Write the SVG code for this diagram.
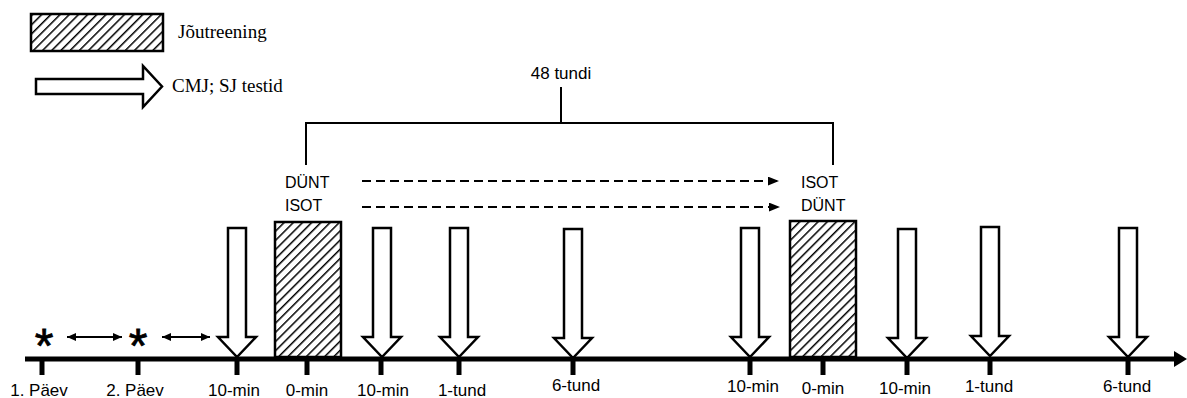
<svg xmlns="http://www.w3.org/2000/svg" width="1187" height="398" viewBox="0 0 1187 398">
<style>
.serif{font-family:"Liberation Serif","Times New Roman",serif;font-size:19px;fill:#000}
.sans{font-family:"Liberation Sans",Arial,sans-serif;font-size:17px;fill:#000}
.lab{font-family:"Liberation Sans",Arial,sans-serif;font-size:16px;fill:#000}
.box{fill:url(#hatch);stroke:#000;stroke-width:2.5}
.darr{fill:#fff;stroke:#000;stroke-width:2.5;stroke-linejoin:miter}
.tick{stroke:#000;stroke-width:5}
.line{stroke:#000;stroke-width:2;fill:none}
.dash{stroke:#000;stroke-width:2.2;stroke-dasharray:9 5;fill:none}
.thin{stroke:#000;stroke-width:2;fill:none}
.star{font-family:"Liberation Sans",Arial,sans-serif;font-size:48px;fill:#000;stroke:#000;stroke-width:0.8}
</style>
<defs>
<pattern id="hatch" patternUnits="userSpaceOnUse" width="6.5" height="6.5" patternTransform="rotate(45)">
<rect width="6.5" height="6.5" fill="#fff"/>
<line x1="0" y1="0" x2="0" y2="6.5" stroke="#000" stroke-width="3"/>
</pattern>
<marker id="ah" viewBox="0 0 10 8" refX="10" refY="4" markerWidth="11" markerHeight="9" markerUnits="userSpaceOnUse" orient="auto">
<path d="M0,0 L10,4 L0,8 Z" fill="#000"/>
</marker>
<marker id="sh" viewBox="0 0 8 7" refX="8" refY="3.5" markerWidth="9" markerHeight="8" markerUnits="userSpaceOnUse" orient="auto-start-reverse">
<path d="M0,0 L8,3.5 L0,7 Z" fill="#000"/>
</marker>
<path id="down" d="M-9,0 L9,0 L9,109 L19,109 L0,129 L-19,109 L-9,109 Z"/>
</defs>

<g id="legend">
<rect class="box" x="31" y="14" width="132" height="37"/>
<text class="serif" x="178" y="38">Jõutreening</text>
<path class="darr" d="M36,79 L143,79 L143,66 L162,86.5 L143,107 L143,94 L36,94 Z"/>
<text class="serif" x="172" y="92">CMJ; SJ testid</text>
</g>

<g id="bracket">
<text class="sans" x="561" y="79" text-anchor="middle">48 tundi</text>
<path class="line" d="M561,87 L561,123 M306,165 L306,123 L833,123 L833,165"/>
</g>

<g id="group-left">
<text class="lab" x="285" y="188">DÜNT</text>
<text class="lab" x="285" y="211">ISOT</text>
</g>
<g id="group-right">
<text class="lab" x="801" y="188">ISOT</text>
<text class="lab" x="801" y="211">DÜNT</text>
</g>

<g id="axis">
<line x1="25" y1="359" x2="1177" y2="359" stroke="#000" stroke-width="5"/>
<path d="M1174,351 L1187,359 L1174,367 Z" fill="#000"/>
<g class="tick">
<line x1="42" y1="359" x2="42" y2="375"/>
<line x1="138" y1="359" x2="138" y2="375"/>
<line x1="237" y1="359" x2="237" y2="375"/>
<line x1="307" y1="359" x2="307" y2="375"/>
<line x1="381" y1="359" x2="381" y2="375"/>
<line x1="459" y1="359" x2="459" y2="375"/>
<line x1="573" y1="359" x2="573" y2="375"/>
<line x1="750" y1="359" x2="750" y2="375"/>
<line x1="823" y1="359" x2="823" y2="375"/>
<line x1="907" y1="359" x2="907" y2="375"/>
<line x1="990" y1="359" x2="990" y2="375"/>
<line x1="1128" y1="359" x2="1128" y2="375"/>
</g>
</g>

<g id="labels">
<text class="sans" x="39" y="396" text-anchor="middle">1. Päev</text>
<text class="sans" x="135" y="396" text-anchor="middle">2. Päev</text>
<text class="sans" x="234" y="396" text-anchor="middle">10-min</text>
<text class="sans" x="307" y="396" text-anchor="middle">0-min</text>
<text class="sans" x="383" y="396" text-anchor="middle">10-min</text>
<text class="sans" x="462" y="396" text-anchor="middle">1-tund</text>
<text class="sans" x="576" y="391" text-anchor="middle">6-tund</text>
<text class="sans" x="753" y="392" text-anchor="middle">10-min</text>
<text class="sans" x="823" y="394" text-anchor="middle">0-min</text>
<text class="sans" x="905" y="394" text-anchor="middle">10-min</text>
<text class="sans" x="989" y="392" text-anchor="middle">1-tund</text>
<text class="sans" x="1127" y="392" text-anchor="middle">6-tund</text>
</g>

<g id="days">
<text class="star" x="44" y="362" text-anchor="middle">*</text>
<text class="star" x="138" y="362" text-anchor="middle">*</text>
</g>

<g id="sessions">
<rect class="box" x="275" y="222" width="66" height="135"/>
<rect class="box" x="790" y="221" width="66" height="136"/>
</g>

<g id="tests">
<use href="#down" class="darr" x="237" y="228"/>
<use href="#down" class="darr" x="382" y="228"/>
<use href="#down" class="darr" x="459" y="228"/>
<use href="#down" class="darr" x="573" y="229"/>
<use href="#down" class="darr" x="750" y="228"/>
<use href="#down" class="darr" x="907" y="229"/>
<use href="#down" class="darr" x="990" y="227"/>
<use href="#down" class="darr" x="1128" y="228"/>
</g>

<g id="connectors">
<line class="dash" x1="362" y1="181" x2="779" y2="181" marker-end="url(#ah)"/>
<line class="dash" x1="362" y1="207" x2="780" y2="207" marker-end="url(#ah)"/>
<line class="thin" x1="67" y1="337" x2="122" y2="337" marker-start="url(#sh)" marker-end="url(#sh)"/>
<line class="thin" x1="162" y1="337" x2="210" y2="337" marker-start="url(#sh)" marker-end="url(#sh)"/>
</g>
</svg>
